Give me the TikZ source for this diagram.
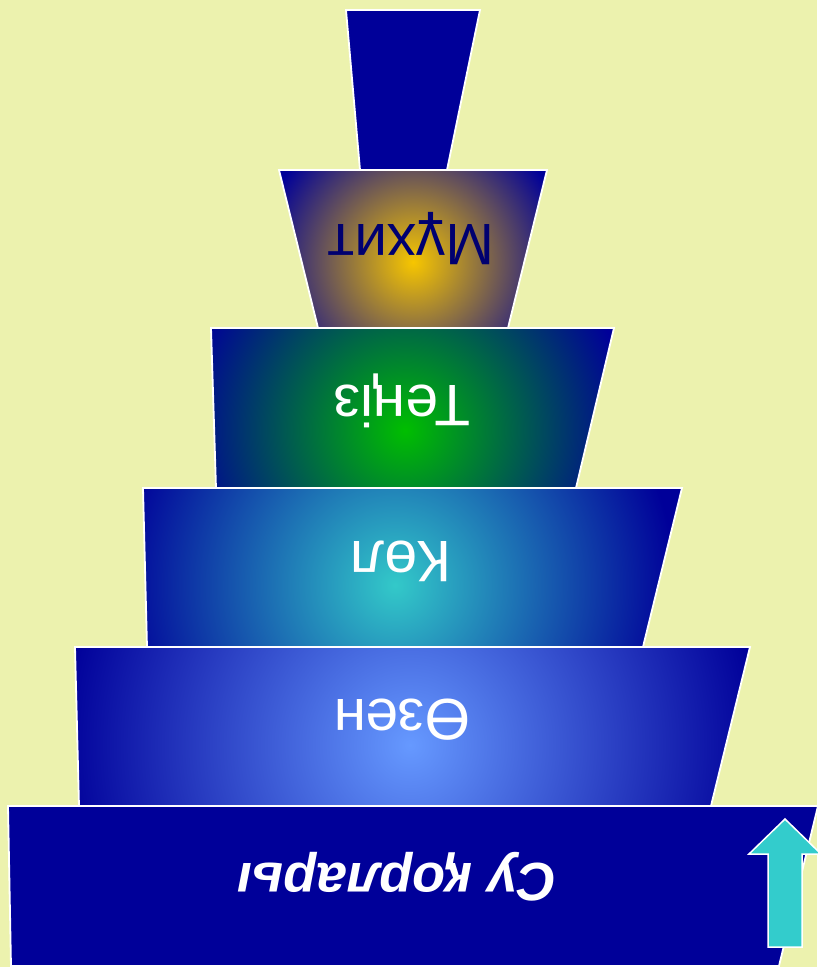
\documentclass[tikz,border=0pt]{standalone}
\usepackage{fontspec}
\setmainfont{Liberation Sans}
\definecolor{bg}{HTML}{ECF2AE}
\definecolor{navy}{HTML}{000099}
\definecolor{txtnavy}{HTML}{000070}
\definecolor{goldc}{HTML}{F7C600}
\definecolor{greenc}{HTML}{00BE00}
\definecolor{cyanc}{HTML}{33C9C9}
\definecolor{lblue}{HTML}{6699FF}
\definecolor{arrowc}{HTML}{33CCCC}
\begin{document}
\begin{tikzpicture}[x=1pt,y=-1pt,
  edge/.style={draw=white,line width=1.8pt,line join=miter},
  lbl/.style={rotate=180,text=white,inner sep=0pt,font=\fontsize{58.5}{60}\selectfont}]
\useasboundingbox[fill=bg] (0,0) rectangle (817,967);
% layer 0 (top)
\fill[navy] (346,10) -- (480,10) -- (447,170) -- (360,170) -- cycle;
\draw[edge] (346,10) -- (480,10) -- (447,170) -- (360,170) -- cycle;
% layer 1
\begin{scope}
\clip (279,170) -- (547,170) -- (508,328) -- (318,328) -- cycle;
\fill[navy] (0,0) rectangle (817,967);
\shade[inner color=goldc,outer color=navy] (413,262) circle (155);
\end{scope}
\draw[edge] (279,170) -- (547,170) -- (508,328) -- (318,328) -- cycle;
% layer 2
\begin{scope}
\clip (211,328) -- (614,328) -- (576,488) -- (216,488) -- cycle;
\fill[navy] (0,0) rectangle (817,967);
\shade[inner color=greenc,outer color=navy] (405,430) circle (225);
\end{scope}
\draw[edge] (211,328) -- (614,328) -- (576,488) -- (216,488) -- cycle;
% layer 3
\begin{scope}
\clip (143,488) -- (682,488) -- (643,647) -- (147,647) -- cycle;
\fill[navy] (0,0) rectangle (817,967);
\shade[inner color=cyanc,outer color=navy] (395,585) circle (280);
\end{scope}
\draw[edge] (143,488) -- (682,488) -- (643,647) -- (147,647) -- cycle;
% layer 4
\begin{scope}
\clip (75,647) -- (750,647) -- (711,806) -- (79,806) -- cycle;
\fill[navy] (0,0) rectangle (817,967);
\shade[inner color=lblue,outer color=navy] (410,745) circle (350);
\end{scope}
\draw[edge] (75,647) -- (750,647) -- (711,806) -- (79,806) -- cycle;
% layer 5 (bottom)
\fill[navy] (8,806) -- (818,806) -- (779,966) -- (11,966) -- cycle;
\draw[edge] (8,806) -- (818,806) -- (779,966) -- (11,966) -- cycle;
% labels
\node[lbl,text=txtnavy] (muhit) at (411,239) {Мұхит};
\node[lbl] (teniz) at (402,401) {Теңіз};
\node[lbl] (kol) at (401,561) {Көл};
\node[lbl] (ozen) at (402,720) {Өзен};
\node[lbl,font=\bfseries\itshape\fontsize{54}{58}\selectfont] (su) at (397,877) {Су қорлары};
% arrow
\draw[draw=white,line width=1.5pt,fill=arrowc,line join=miter]
  (785,819) -- (821,854) -- (802,854) -- (802,947) -- (768,947) -- (768,854) -- (749,854) -- cycle;
\end{tikzpicture}
\end{document}
